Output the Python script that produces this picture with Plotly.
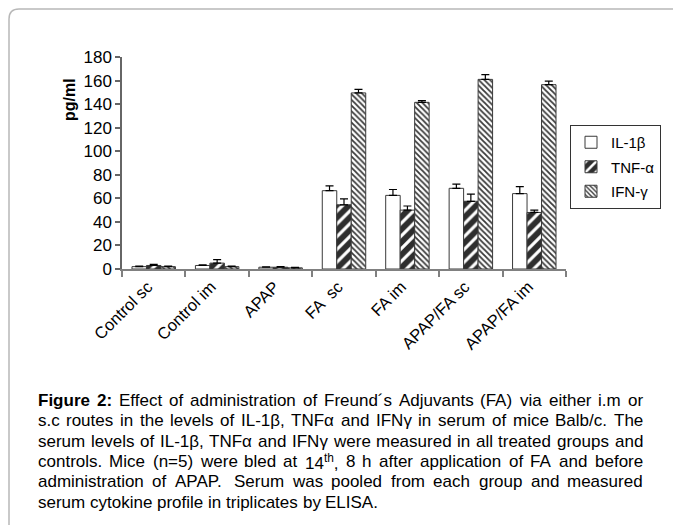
import plotly.graph_objects as go

categories = ["Control sc", "Control im", "APAP", "FA  sc", "FA im", "APAP/FA sc", "APAP/FA im"]
series_names = ["IL-1β", "TNF-α", "IFN-γ"]
il1b = [2.0, 3.0, 1.5, 66.5, 62.5, 68.5, 64.0]
il1b_err = [0.5, 0.5, 0.3, 4.0, 5.0, 3.5, 6.0]
tnfa = [3.0, 5.0, 1.5, 54.5, 50.0, 57.5, 48.0]
tnfa_err = [1.0, 3.0, 0.5, 5.0, 3.5, 6.0, 2.0]
ifng = [2.0, 2.0, 1.0, 149.5, 141.5, 161.0, 156.5]
ifng_err = [0.5, 0.5, 0.3, 3.0, 1.5, 4.0, 3.0]
yticks = [0, 20, 40, 60, 80, 100, 120, 140, 160, 180]

caption_lines = [
    "<b>Figure 2:</b> Effect of administration of Freund´s Adjuvants (FA) via either i.m or",
    "s.c routes in the levels of IL-1β, TNFα and IFNγ in serum of mice Balb/c.  The",
    "serum levels of IL-1β, TNFα and IFNγ were measured in all treated groups and",
    "controls. Mice (n=5) were bled at 14<sup>th</sup>, 8 h after application of FA and before",
    "administration of APAP. Serum was pooled from each group and measured",
    "serum cytokine profile in triplicates by ELISA.",
]
caption_justified = [True, True, True, True, True, False]

# ---- geometry (window pixels) ----
WIN_W, WIN_H = 681, 525
OFF = 8                      # default body margin of the html page
FIG_W, FIG_H = WIN_W - OFF, WIN_H - OFF
L, R, T, B = 122, 566, 57, 269   # plot area in window px


def px(x):
    return (x - L) / (R - L)


def py(y):
    return (B - y) / (B - T)


CHART_FONT = "Liberation Sans, Arial, sans-serif"
CAP_FONT = "Liberation Sans, Arial, sans-serif"
CAP_SIZE = 17

# Arial / Liberation Sans advance widths (1/1000 em)
REG = {' ': 278, '(': 333, ')': 333, ',': 278, '-': 333, '.': 278, '/': 278, ':': 278,
       '=': 584, '´': 333, 'β': 575, 'α': 578, 'γ': 500}
for c in "0123456789":
    REG[c] = 556
REG.update(dict(zip("ABCDEFGHIJKLMNOPQRSTUVWXYZ",
                    [667, 667, 722, 722, 667, 611, 778, 722, 278, 500, 667, 556, 833,
                     722, 778, 667, 778, 722, 667, 611, 722, 667, 944, 667, 667, 611])))
REG.update(dict(zip("abcdefghijklmnopqrstuvwxyz",
                    [556, 556, 500, 556, 556, 278, 556, 556, 222, 222, 500, 222, 833,
                     556, 556, 556, 556, 333, 500, 278, 556, 500, 722, 500, 500, 500])))
BOLD = dict(REG)
BOLD.update({'F': 611, 'i': 278, 'g': 611, 'u': 611, 'r': 389, 'e': 556, '2': 556, ':': 333})


def word_width(w, size):
    total = 0.0
    i = 0
    bold = False
    sup = False
    while i < len(w):
        for tag, b, s in (("<b>", True, None), ("</b>", False, None),
                          ("<sup>", None, True), ("</sup>", None, False)):
            if w.startswith(tag, i):
                if b is not None:
                    bold = b
                if s is not None:
                    sup = s
                i += len(tag)
                break
        else:
            table = BOLD if bold else REG
            total += table.get(w[i], 556) * size / 1000 * (0.7 if sup else 1.0)
            i += 1
    return total


def split_words(line):
    line = line.replace("<b>Figure 2:</b>", "<b>Figure</b> <b>2:</b>")
    return [w for w in line.split(" ") if w != ""]


fig = go.Figure()
styles = [
    dict(shape=""),
    dict(shape="/", bgcolor="#2e2e2e", fgcolor="white", size=9, solidity=0.35, fillmode="replace"),
    dict(shape="\\", bgcolor="white", fgcolor="#3a3a3a", size=4, solidity=0.45, fillmode="replace"),
]
for name, vals, errs, st in zip(series_names, [il1b, tnfa, ifng],
                                [il1b_err, tnfa_err, ifng_err], styles):
    fig.add_trace(go.Bar(
        x=categories, y=vals, name=name, legendgroup=name,
        marker=dict(color="white", pattern=st, line=dict(color="#3a3a3a", width=1)),
        error_y=dict(type="data", symmetric=False, array=errs,
                     arrayminus=[0] * len(errs), color="black",
                     thickness=1.2, width=4),
    ))

annotations = [
    dict(text="<b>pg/ml</b>", x=px(69), y=py(100), xref="paper", yref="paper",
         xanchor="center", yanchor="middle",
         showarrow=False, textangle=-90, font=dict(family=CHART_FONT, size=16, color="black")),
]

CAP_X0, CAP_X1 = 38, 643
line_y = [400, 420.5, 441, 461.5, 482, 502.5]
space_w = REG[' '] * CAP_SIZE / 1000
for txt, yy, just in zip(caption_lines, line_y, caption_justified):
    words = split_words(txt)
    widths = [word_width(w, CAP_SIZE) for w in words]
    if just and len(words) > 1:
        gap = (CAP_X1 - CAP_X0 - sum(widths)) / (len(words) - 1)
    else:
        gap = space_w
    x = CAP_X0
    for w, wd in zip(words, widths):
        annotations.append(dict(text=w, x=px(x), y=py(yy), xref="paper", yref="paper",
                                xanchor="left", yanchor="middle", showarrow=False,
                                borderpad=0, borderwidth=0,
                                font=dict(family=CAP_FONT, size=CAP_SIZE, color="black")))
        x += wd + gap

r = 10
path = (f"M {px(WIN_W + 5)},{py(9)} L {px(9 + r)},{py(9)} "
        f"Q {px(9)},{py(9)} {px(9)},{py(9 + r)} L {px(9)},{py(WIN_H + 5)}")

fig.update_layout(
    width=FIG_W, height=FIG_H,
    margin=dict(l=L - OFF, r=WIN_W - R, t=T - OFF, b=WIN_H - B, pad=0, autoexpand=False),
    paper_bgcolor="white", plot_bgcolor="white",
    barmode="group", bargap=0.315, bargroupgap=0,
    font=dict(family=CHART_FONT, size=17, color="black"),
    showlegend=True,
    legend=dict(x=px(570), y=py(125), xanchor="left", yanchor="top",
                bordercolor="#333", borderwidth=1, bgcolor="white",
                font=dict(size=15), traceorder="grouped", tracegroupgap=2,
                itemwidth=30),
    xaxis=dict(type="category", showline=True, linecolor="#808080", linewidth=1.5,
               ticks="outside", tickson="boundaries", ticklen=6, tickcolor="#808080",
               tickwidth=1.5, tickangle=-45, showgrid=False, zeroline=False,
               tickfont=dict(size=16.5), ticklabelshift=-6, automargin=False),
    yaxis=dict(range=[0, 180], tickvals=yticks, showline=True, linecolor="#666666",
               linewidth=1.5, ticks="outside", ticklen=5, tickcolor="#666666",
               tickwidth=1.5, showgrid=False, zeroline=False, tickfont=dict(size=17),
               automargin=False),
    annotations=annotations,
    shapes=[dict(type="path", path=path, xref="paper", yref="paper",
                 line=dict(color="#b8b8b8", width=1.5))],
)

fig.write_html("out.html")
